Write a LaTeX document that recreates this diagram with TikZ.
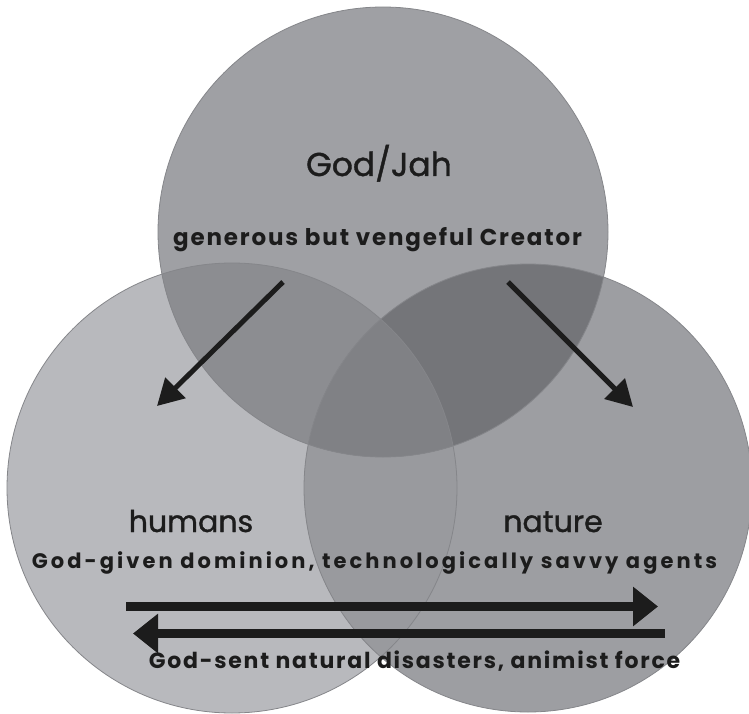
\documentclass[tikz,border=0pt]{standalone}
\usepackage{fontspec}
\setmainfont{Poppins}
\newfontfamily\headfont[FakeBold=1.2]{Poppins}
\newfontfamily\spacedA[LetterSpace=8]{Poppins}
\newfontfamily\spacedB[LetterSpace=14.5]{Poppins}
\usetikzlibrary{arrows.meta}
\definecolor{cL}{HTML}{B8B9BD}
\definecolor{cR}{HTML}{9D9EA2}
\definecolor{cT}{HTML}{9FA0A4}
\definecolor{cLR}{HTML}{999A9E}
\definecolor{cTL}{HTML}{8C8D91}
\definecolor{cTR}{HTML}{747579}
\definecolor{cTLR}{HTML}{808185}
\definecolor{ringline}{HTML}{85868A}
\definecolor{ink}{HTML}{1C1C1C}
\begin{document}
\begin{tikzpicture}[x=1pt,y=-1pt,
  ring/.style={draw=ringline,line width=0.8pt},
  diag/.style={draw=ink,line width=5pt,-{Triangle[length=26pt,width=28pt]}},
  flow/.style={draw=ink,line width=8.5pt,-{Triangle[length=25pt,width=38pt]}},
  lbl/.style={anchor=base,inner sep=0pt,text=ink}]
\useasboundingbox (0,0) rectangle (749,714);
\clip (0,0) rectangle (749,714);
\def\cirT{(383,232) circle[radius=225]}
\def\cirL{(232,488) circle[radius=225]}
\def\cirR{(528,488) circle[radius=224]}
\fill[white] (0,0) rectangle (749,714);
\fill[cL] \cirL;
\fill[cR] \cirR;
\begin{scope}\clip \cirL; \fill[cLR] \cirR; \end{scope}
\fill[cT] \cirT;
\begin{scope}
  \clip \cirT;
  \fill[cTL] \cirL;
  \fill[cTR] \cirR;
  \clip \cirL;
  \fill[cTLR] \cirR;
\end{scope}
\draw[ring] \cirL;
\draw[ring] \cirR;
\draw[ring] \cirT;

\node[lbl,font=\headfont\fontsize{33}{33}\selectfont] (god) at (379,176) {God/Jah};
\node[lbl,font=\spacedA\fontsize{23}{23}\selectfont\bfseries] (gen) at (377.5,245) {generous but vengeful Creator};
\node[lbl,font=\headfont\fontsize{30}{30}\selectfont] (hum) at (191,532) {humans};
\node[lbl,font=\headfont\fontsize{30}{30}\selectfont] (nat) at (553,532) {nature};
\node[lbl,font=\spacedB\fontsize{21}{21}\selectfont\bfseries] (dom) at (374.5,568) {God-given dominion, technologically savvy agents};
\node[lbl,font=\spacedA\fontsize{22}{22}\selectfont\bfseries] (sent) at (414.5,668) {God-sent natural disasters, animist force};

\coordinate (d1s) at (283,282);
\coordinate (d1e) at (157,406);
\coordinate (d2s) at (508,282);
\coordinate (d2e) at (633,407);
\coordinate (f1s) at (126,606.5);
\coordinate (f1e) at (658,606.5);
\coordinate (f2s) at (665,633.5);
\coordinate (f2e) at (133,633.5);
\draw[diag] (d1s) -- (d1e);
\draw[diag] (d2s) -- (d2e);
\draw[flow] (f1s) -- (f1e);
\draw[flow] (f2s) -- (f2e);
\end{tikzpicture}
\end{document}
